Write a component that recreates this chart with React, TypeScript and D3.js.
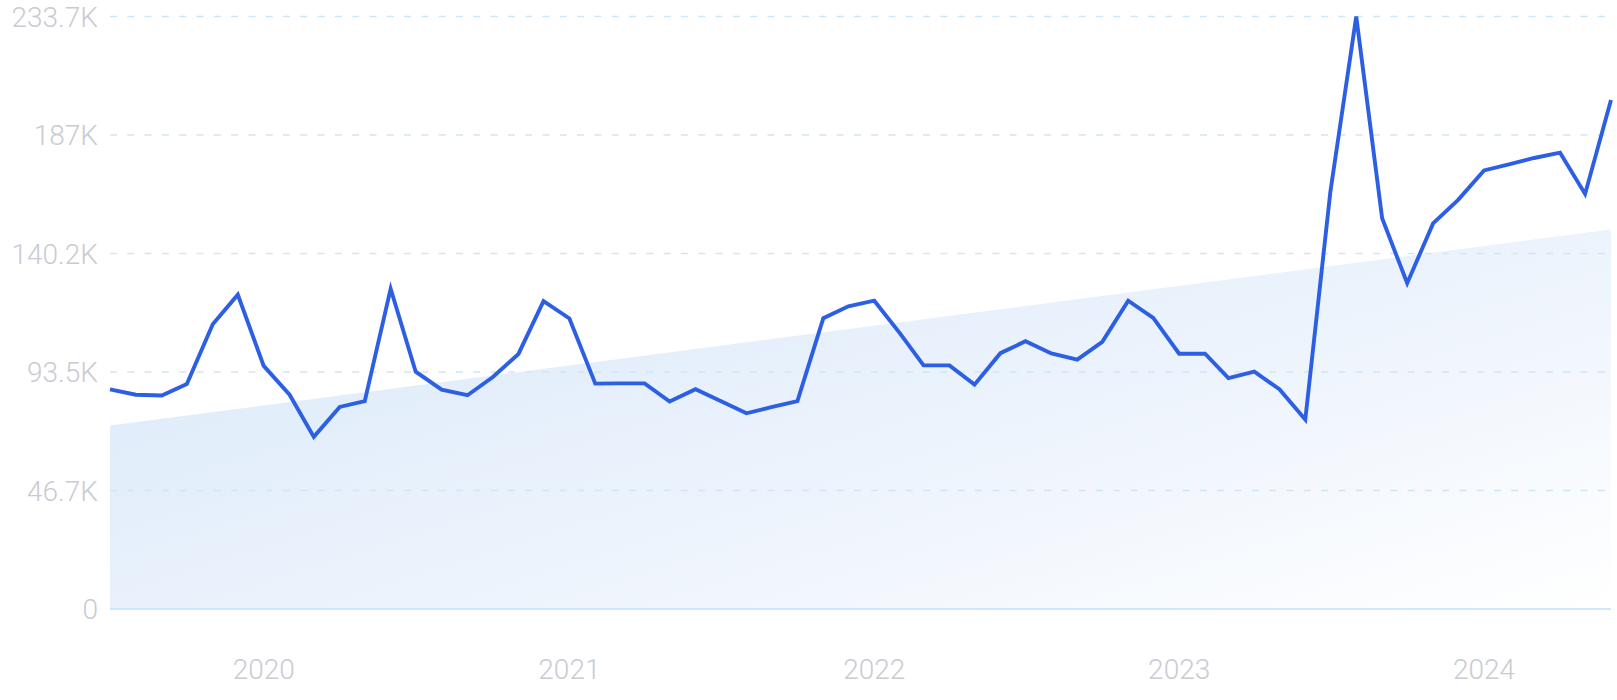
import React from "react";
import * as d3 from "d3";

const months: string[] = [
  "2019-07", "2019-08", "2019-09", "2019-10", "2019-11", "2019-12",
  "2020-01", "2020-02", "2020-03", "2020-04", "2020-05", "2020-06",
  "2020-07", "2020-08", "2020-09", "2020-10", "2020-11", "2020-12",
  "2021-01", "2021-02", "2021-03", "2021-04", "2021-05", "2021-06",
  "2021-07", "2021-08", "2021-09", "2021-10", "2021-11", "2021-12",
  "2022-01", "2022-02", "2022-03", "2022-04", "2022-05", "2022-06",
  "2022-07", "2022-08", "2022-09", "2022-10", "2022-11", "2022-12",
  "2023-01", "2023-02", "2023-03", "2023-04", "2023-05", "2023-06",
  "2023-07", "2023-08", "2023-09", "2023-10", "2023-11", "2023-12",
  "2024-01", "2024-02", "2024-03", "2024-04", "2024-05", "2024-06",
];

// search volume, thousands
const volumeK: number[] = [
  86.6, 84.5, 84.2, 88.7, 112.3, 124.0, 95.9, 84.5, 67.9, 79.7, 82.0, 126.3,
  93.6, 86.5, 84.3, 91.4, 100.6, 121.4, 114.6, 88.9, 89.0, 89.0, 81.8, 86.7,
  82.0, 77.2, 79.7, 82.0, 114.7, 119.4, 121.6, 108.6, 96.1, 96.1, 88.5, 100.9,
  105.6, 100.8, 98.4, 105.4, 121.6, 114.8, 100.7, 100.7, 91.1, 93.6, 86.7, 74.7,
  164.5, 233.7, 154.1, 128.5, 152.1, 161.4, 173.0, 175.5, 177.9, 180.0, 163.7, 200.8,
];

// linear trend, start and end (thousands)
const trendK: number[] = [72.4, 149.7];

const yTickValues: number[] = [0, 46740, 93480, 140220, 186960, 233700];
const yTickLabels: string[] = ["0", "46.7K", "93.5K", "140.2K", "187K", "233.7K"];
const xTickYears: string[] = ["2020", "2021", "2022", "2023", "2024"];

const W = 1617;
const H = 700;
const left = 110;
const right = 1611;
const top = 16.5;
const bottom = 609;

export default function App() {
  const parse = d3.timeParse("%Y-%m");
  const dates = months.map((m) => parse(m) as Date);
  const x = d3.scaleTime().domain([dates[0], dates[dates.length - 1]]).range([left, right]);
  const y = d3.scaleLinear().domain([0, 233700]).range([bottom, top]);

  const data = dates.map((d, i) => ({ d, v: volumeK[i] * 1000 }));
  const line = d3
    .line<{ d: Date; v: number }>()
    .x((p) => x(p.d))
    .y((p) => y(p.v));

  const trendPts: [number, number][] = [
    [x(dates[0]), y(trendK[0] * 1000)],
    [x(dates[dates.length - 1]), y(trendK[1] * 1000)],
  ];
  const area = d3
    .area<[number, number]>()
    .x((p) => p[0])
    .y0(y(0))
    .y1((p) => p[1]);

  const font = "Roboto, 'Noto Sans', sans-serif";

  return (
    <svg
      width={W}
      height={H}
      style={{ position: "absolute", left: 0, top: 0, display: "block", background: "#fff" }}
    >
      <defs>
        <linearGradient id="trendFill" x1="0" y1="0.2" x2="1" y2="1">
          <stop offset="0" stopColor="#dceafa" />
          <stop offset="0.5" stopColor="#ecf3fc" />
          <stop offset="1" stopColor="#ffffff" />
        </linearGradient>
      </defs>
      <path d={area(trendPts) || ""} fill="url(#trendFill)" />
      {yTickValues.map((t, i) =>
        t === 0 ? null : (
          <line
            key={"g" + i}
            x1={left}
            x2={right}
            y1={y(t)}
            y2={y(t)}
            stroke="#cfe6f6"
            strokeWidth={1.5}
            strokeDasharray="7 10.3"
          />
        )
      )}
      <line x1={left} x2={right} y1={y(0)} y2={y(0)} stroke="#c2e1fb" strokeWidth={1.5} />
      {yTickValues.map((t, i) => (
        <text
          key={"yl" + i}
          x={98}
          y={y(t)}
          dy="0.36em"
          textAnchor="end"
          fontFamily={font}
          fontWeight={300}
          fontSize={28}
          fill="#c9cbd3"
        >
          {yTickLabels[i]}
        </text>
      ))}
      {xTickYears.map((yr) => (
        <text
          key={"xl" + yr}
          x={x(parse(yr + "-01") as Date)}
          y={679}
          textAnchor="middle"
          fontFamily={font}
          fontWeight={300}
          fontSize={28}
          fill="#c9cbd3"
        >
          {yr}
        </text>
      ))}
      <path
        d={line(data) || ""}
        fill="none"
        stroke="#2d5fe4"
        strokeWidth={3.9}
        strokeLinejoin="miter"
        strokeMiterlimit={4}
      />
    </svg>
  );
}
